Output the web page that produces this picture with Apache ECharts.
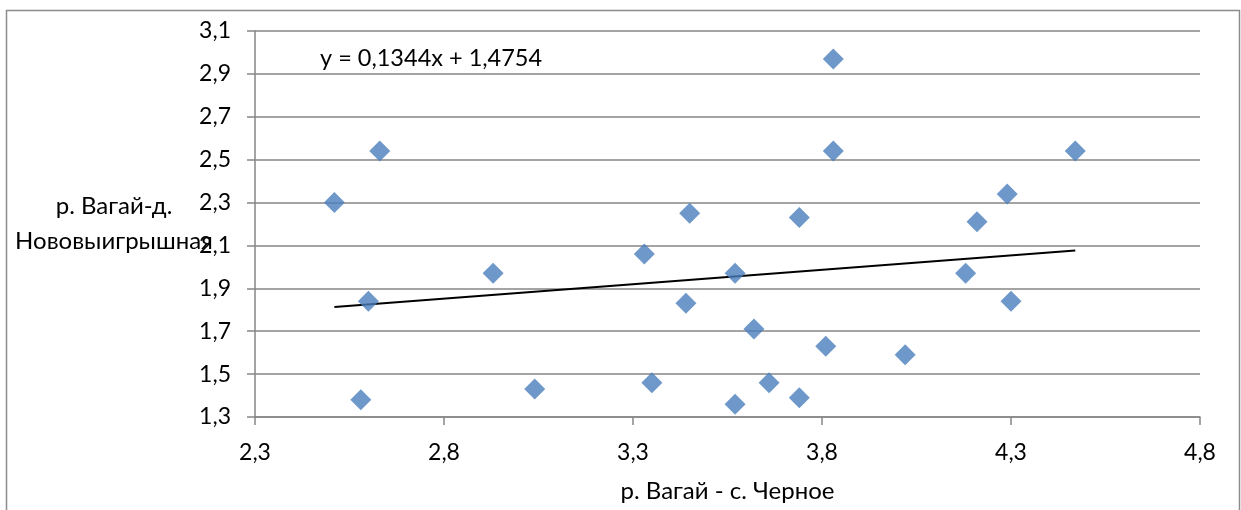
<!DOCTYPE html>
<html>
<head>
<meta charset="utf-8">
<script src="https://cdn.jsdelivr.net/npm/echarts@6/dist/echarts.min.js"></script>
<style>
html,body{margin:0;padding:0;background:#fff;}
#chart{width:1241px;height:510px;}
</style>
</head>
<body>
<div id="chart"></div>
<script>
// Data
var xValues = [2.51, 2.63, 2.60, 2.58, 2.93, 3.04, 3.33, 3.35, 3.45, 3.44, 3.57, 3.57, 3.62, 3.66, 3.74, 3.74, 3.81, 3.83, 3.83, 4.02, 4.18, 4.21, 4.29, 4.30, 4.47];
var yValues = [2.30, 2.54, 1.84, 1.38, 1.97, 1.43, 2.06, 1.46, 2.25, 1.83, 1.97, 1.36, 1.71, 1.46, 2.23, 1.39, 1.63, 2.97, 2.54, 1.59, 1.97, 2.21, 2.34, 1.84, 2.54];
var trendSlope = 0.1344;
var trendIntercept = 1.4754;
var equationText = 'y = 0,1344x + 1,4754';
var xTicks = [2.3, 2.8, 3.3, 3.8, 4.3, 4.8];
var yTicks = [1.3, 1.5, 1.7, 1.9, 2.1, 2.3, 2.5, 2.7, 2.9, 3.1];
var xAxisName = 'р. Вагай - с. Черное';
var yAxisName = 'р. Вагай-д.\nНововыигрышная';

var points = xValues.map(function (x, i) { return [x, yValues[i]]; });
var xMin = Math.min.apply(null, xValues), xMax = Math.max.apply(null, xValues);
var trend = [[xMin, trendSlope * xMin + trendIntercept], [xMax, trendSlope * xMax + trendIntercept]];

var FONT = 'Lato, "Noto Sans", sans-serif';
var fmt = function (v) { return v.toFixed(1).replace('.', ','); };

var chart = echarts.init(document.getElementById('chart'));
chart.setOption({
  animation: false,
  backgroundColor: '#fff',
  textStyle: { fontFamily: FONT },
  grid: { left: 255, right: 41, top: 31, bottom: 93, containLabel: false, outerBoundsMode: 'none' },
  graphic: [
    { type: 'rect', left: 4, top: 8, shape: { width: 1233, height: 520 }, style: { fill: 'none', stroke: '#8c8c8c', lineWidth: 1.5 }, silent: true },
    { type: 'text', left: 320, top: 46, style: { text: equationText, fill: '#000', font: '23.5px ' + FONT } }
  ],
  xAxis: {
    type: 'value', min: xTicks[0], max: xTicks[xTicks.length - 1],
    name: xAxisName, nameLocation: 'middle', nameGap: 62, nameMoveOverlap: false,
    nameTextStyle: { fontSize: 24, color: '#000', fontFamily: FONT },
    axisLine: { show: true, lineStyle: { color: '#868686', width: 1.5 } },
    axisTick: { show: true, length: 8, customValues: xTicks, lineStyle: { color: '#868686', width: 1.5 } },
    axisLabel: { customValues: xTicks, formatter: fmt, fontSize: 23, color: '#000', margin: 24, fontFamily: FONT },
    splitLine: { show: false }
  },
  yAxis: {
    type: 'value', min: yTicks[0], max: yTicks[yTicks.length - 1], interval: 0.2,
    name: yAxisName, nameLocation: 'middle', nameRotate: 0, nameGap: 141, nameMoveOverlap: false,
    nameTextStyle: { fontSize: 24, color: '#000', align: 'center', lineHeight: 35, fontFamily: FONT },
    axisLine: { show: true, lineStyle: { color: '#868686', width: 1.5 } },
    axisTick: { show: true, length: 8, lineStyle: { color: '#868686', width: 1.5 } },
    axisLabel: { formatter: fmt, fontSize: 23, color: '#000', margin: 24, fontFamily: FONT },
    splitLine: { show: true, lineStyle: { color: '#868686', width: 1.5 } }
  },
  series: [
    {
      type: 'scatter', data: points, symbol: 'diamond', symbolSize: [21, 21],
      itemStyle: { color: '#4A7EBB' }, z: 3
    },
    {
      type: 'line', data: trend, symbol: 'none', lineStyle: { color: '#000', width: 2 }, z: 2, silent: true
    }
  ]
});
</script>
</body>
</html>
